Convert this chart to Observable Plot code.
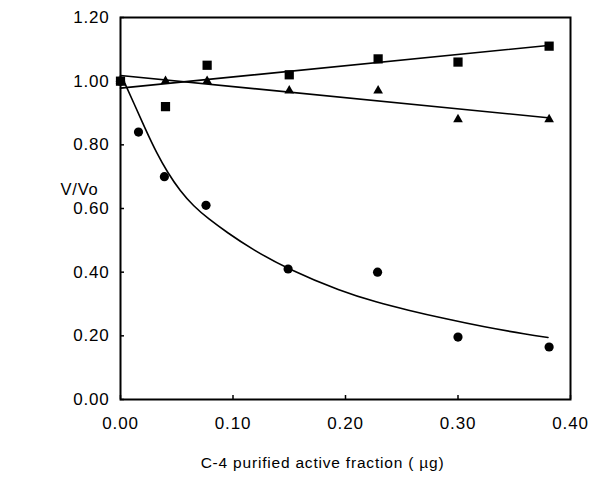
<!DOCTYPE html>
<html>
<head>
<meta charset="utf-8">
<script src="https://cdn.jsdelivr.net/npm/d3@7"></script>
<script src="https://cdn.jsdelivr.net/npm/@observablehq/plot@0.6"></script>
<style>
  html, body { margin: 0; padding: 0; background: #fff; }
  #chart { width: 592px; height: 482px; }
  svg { font-family: "Liberation Sans", Arial, sans-serif; letter-spacing: 0.8px; }
</style>
</head>
<body>
<div id="chart"></div>
<script>
// ---- data ----
const xTicks = [0, 0.1, 0.2, 0.3, 0.4];
const yTicks = [0, 0.2, 0.4, 0.6, 0.8, 1.0, 1.2];

// squares (■)
const squareX = [0, 0.04, 0.077, 0.15, 0.229, 0.30, 0.381];
const squareY = [1.00, 0.92, 1.05, 1.02, 1.07, 1.06, 1.11];
// triangles (▲)
const triX = [0, 0.04, 0.077, 0.15, 0.229, 0.30, 0.381];
const triY = [1.00, 1.00, 1.00, 0.97, 0.97, 0.88, 0.88];
// circles (●)
const circX = [0, 0.016, 0.039, 0.076, 0.149, 0.2285, 0.30, 0.381];
const circY = [1.00, 0.84, 0.70, 0.61, 0.41, 0.40, 0.196, 0.165];

// fitted lines (end points)
const squareFitX = [0, 0.38];
const squareFitY = [0.978, 1.112];
const triFitX = [0, 0.38];
const triFitY = [1.018, 0.885];
// fitted curve through the circles
const curveX = [0.003, 0.012, 0.022, 0.032, 0.042, 0.053, 0.065, 0.078, 0.095, 0.116, 0.149, 0.196, 0.228, 0.255, 0.288, 0.323, 0.362, 0.38];
const curveY = [1.00, 0.93, 0.85, 0.775, 0.712, 0.655, 0.607, 0.568, 0.524, 0.474, 0.409, 0.34, 0.305, 0.281, 0.254, 0.228, 0.204, 0.195];

const xLabel = "C-4 purified active fraction ( µg)";
const yLabel = "V/Vo";

const zip = (xs, ys) => xs.map((x, i) => ({x, y: ys[i]}));
const squares = zip(squareX, squareY);
const tris = zip(triX, triY);
const circs = zip(circX, circY);
const squareFit = zip(squareFitX, squareFitY);
const triFit = zip(triFitX, triFitY);
const curve = zip(curveX, curveY);

const fmt = d3.format(".2f");

const chart = Plot.plot({
  width: 592,
  height: 482,
  marginLeft: 120,
  marginRight: 22,
  marginTop: 17,
  marginBottom: 83,
  style: {fontFamily: "'Liberation Sans', Arial, sans-serif", background: "#fff", color: "#000"},
  x: {domain: [0, 0.4]},
  y: {domain: [0, 1.2]},
  marks: [
    Plot.frame({stroke: "#000", strokeWidth: 2}),
    Plot.axisX({ticks: xTicks, tickFormat: fmt, tickSize: -4, tickPadding: 21, fontSize: 17, label: null, stroke: "#000", strokeWidth: 1.5}),
    Plot.axisY({ticks: yTicks, tickFormat: fmt, tickSize: -4, tickPadding: 15, fontSize: 17, label: null, stroke: "#000", strokeWidth: 1.5}),
    Plot.line(curve, {x: "x", y: "y", curve: "basis", stroke: "#000", strokeWidth: 1.6}),
    Plot.line(squareFit, {x: "x", y: "y", stroke: "#000", strokeWidth: 1.6}),
    Plot.line(triFit, {x: "x", y: "y", stroke: "#000", strokeWidth: 1.6}),
    Plot.dot(circs, {x: "x", y: "y", symbol: "circle", r: 4.6, fill: "#000", stroke: null}),
    Plot.dot(tris, {x: "x", y: "y", symbol: "triangle", r: 3.6, fill: "#000", stroke: null}),
    Plot.dot(squares, {x: "x", y: "y", symbol: "square", r: 5.2, fill: "#000", stroke: null}),
    Plot.text([xLabel], {text: d => d, frameAnchor: "bottom", dx: -23, dy: 68, fontSize: 15.5, fill: "#000"}),
    Plot.text([yLabel], {text: d => d, frameAnchor: "top-left", dx: -41, dy: 166, textAnchor: "middle", fontSize: 16.5, fill: "#000"})
  ]
});
document.getElementById("chart").appendChild(chart);
</script>
</body>
</html>
